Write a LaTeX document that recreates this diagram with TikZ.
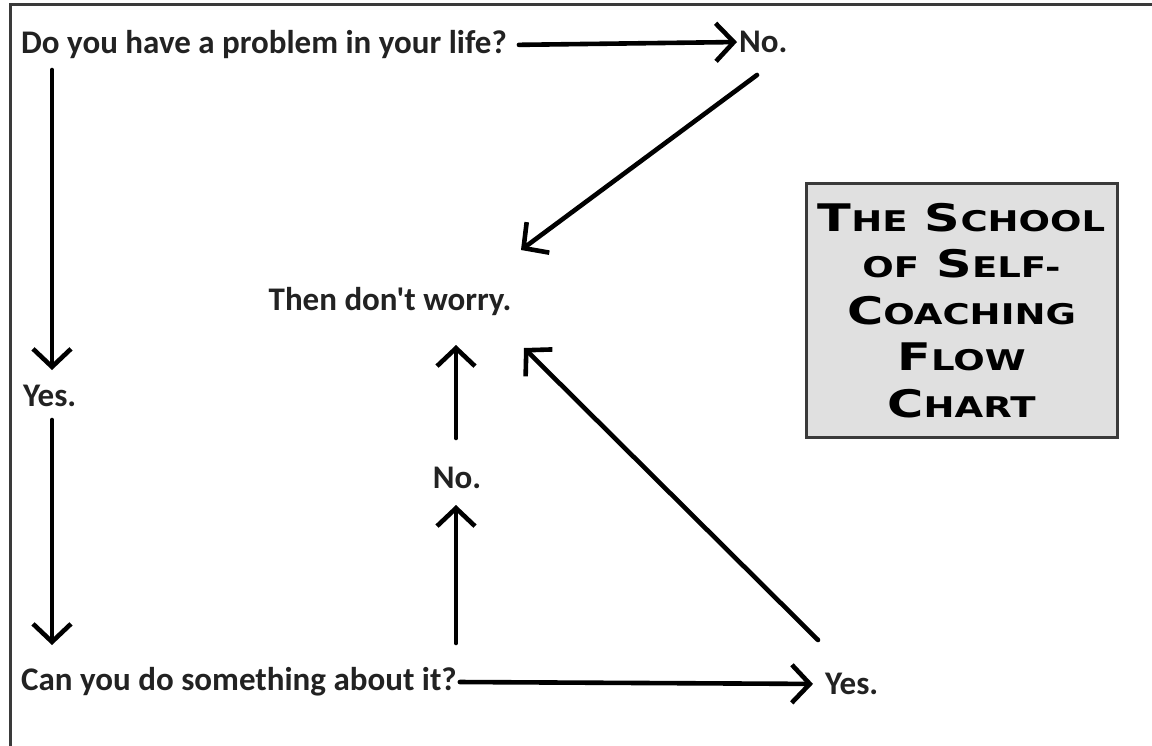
\documentclass[tikz,border=0pt]{standalone}
\usepackage{fontspec}
\usepackage{graphicx}
\newfontfamily\labelfont{Carlito}[BoldFont={Carlito Bold}]
\newfontfamily\titlefont{DejaVu Sans}[BoldFont={DejaVu Sans Bold}]
\usetikzlibrary{arrows.meta,calc}
\definecolor{ink}{HTML}{222222}
\definecolor{boxfill}{HTML}{E0E0E0}
\definecolor{boxline}{HTML}{3A3A3A}
\newcommand{\bigC}[1]{{\fontsize{38}{46}\selectfont #1}}
\newcommand{\smC}[1]{{\fontsize{28.5}{46}\selectfont #1}}
\newcommand{\tline}[1]{\scalebox{1.3}[1]{#1}}
\begin{document}
\begin{tikzpicture}[x=1pt,y=-1pt,
  lbl/.style={font=\labelfont\bfseries\fontsize{33}{36}\selectfont, text=ink, inner sep=0pt},
  arr/.style={line width=4.6pt, draw=black, line cap=round, line join=round,
    -{Straight Barb[length=18pt,width=38pt,line width=4.6pt]}},
  titlebox/.style={draw=boxline, line width=3pt, fill=boxfill, minimum width=311pt,
    minimum height=253pt, inner sep=0pt, align=center,
    font=\titlefont\bfseries\fontsize{38}{46.5}\selectfont, text=black}]
\useasboundingbox (0,0) rectangle (1152,746);
\fill[white] (0,0) rectangle (1152,746);
\draw[line width=3pt, draw=boxline] (10,746) -- (10,5) -- (1152,5);

\node[lbl, anchor=west] (q1) at (21,45) {Do you have a problem in your life?};
\node[lbl, anchor=west] (no1) at (739,42) {No.};
\node[lbl] (worry) at (390,302) {Then don't worry.};
\node[lbl, anchor=west] (yes1) at (23,396) {Yes.};
\node[lbl] (no2) at (457,478) {No.};
\node[lbl, anchor=west] (q2) at (21,682) {Can you do something about it?};
\node[lbl, anchor=west] (yes2) at (825,684) {Yes.};

\node[titlebox] (title) at (961.5,310.5) {%
  \tline{\bigC{T}\smC{HE} \bigC{S}\smC{CHOOL}}\\
  \tline{\smC{OF} \bigC{S}\smC{ELF-}}\\
  \tline{\bigC{C}\smC{OACHING}}\\
  \tline{\bigC{F}\smC{LOW}}\\
  \tline{\bigC{C}\smC{HART}}};

\coordinate (q1s) at (52,70);
\coordinate (yes1n) at (52,370);
\coordinate (yes1s) at (52,420);
\coordinate (q2n) at (52,645);
\coordinate (no1s) at (757,75);
\coordinate (worryne) at (521,250);
\coordinate (worryse) at (524,348);
\coordinate (worrys) at (456,345);
\coordinate (no2n) at (456,438);
\coordinate (no2s) at (456,505);
\coordinate (q2ne) at (456,643);
\coordinate (yes2nw) at (818,640);

\draw[arr, shorten <=12pt, shorten >=2pt] (q1.east) -- (no1.west);
\draw[arr] (no1s) -- (worryne);
\draw[arr] (q1s) -- (yes1n);
\draw[arr] (yes1s) -- (q2n);
\draw[arr, shorten <=3pt, shorten >=12pt] (q2.east) -- (yes2.west);
\draw[arr] (q2ne) -- (no2s);
\draw[arr] (no2n) -- (worrys);
\draw[arr] (yes2nw) -- (worryse);
\end{tikzpicture}
\end{document}
